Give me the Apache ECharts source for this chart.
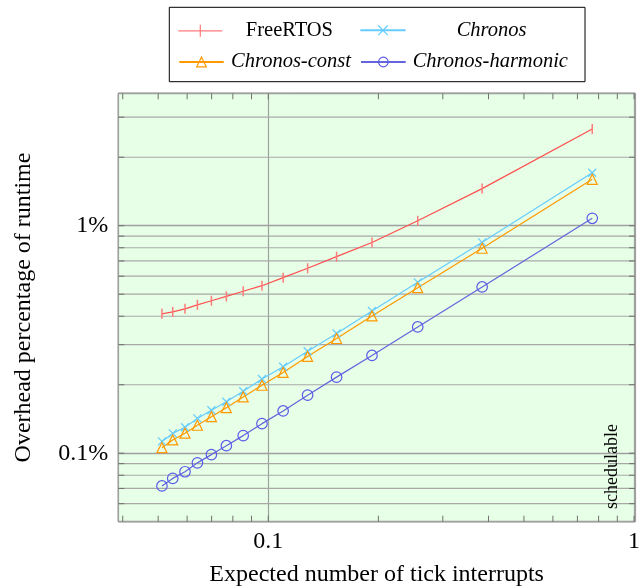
<!DOCTYPE html>
<html><head><meta charset="utf-8">
<script src="https://cdn.jsdelivr.net/npm/echarts@6/dist/echarts.min.js"></script>
<style>html,body{margin:0;padding:0;background:#fff}#c{width:640px;height:586px}</style>
</head><body><div id="c"></div>
<script>
// ---- data ----
const seriesNames = ['FreeRTOS', 'Chronos', 'Chronos-const', 'Chronos-harmonic'];
const tickInterrupts = [0.0512, 0.0548, 0.0592, 0.0640, 0.0699, 0.0768, 0.0854, 0.0961, 0.1098, 0.1281, 0.1537, 0.1921, 0.2562, 0.3843, 0.7686];
const freeRTOS        = [0.410, 0.418, 0.431, 0.449, 0.468, 0.489, 0.515, 0.545, 0.591, 0.650, 0.731, 0.844, 1.051, 1.456, 2.66];
const chronos         = [0.1127, 0.1222, 0.1300, 0.1422, 0.1545, 0.1683, 0.1872, 0.212, 0.240, 0.2808, 0.336, 0.422, 0.564, 0.845, 1.709];
const chronosConst    = [0.1058, 0.1144, 0.1225, 0.1327, 0.1448, 0.1586, 0.1768, 0.199, 0.2265, 0.2663, 0.3194, 0.4012, 0.534, 0.796, 1.599];
const chronosHarmonic = [0.0718, 0.0775, 0.0829, 0.0907, 0.0986, 0.1079, 0.1195, 0.1349, 0.1534, 0.180, 0.216, 0.269, 0.359, 0.538, 1.078];

const xTickValues = [0.1, 1];
const xTickLabels = ['0.1', '1'];
const yTickValues = [0.1, 1];
const yTickLabels = ['0.1%', '1%'];
const xMinorTicks = [0.04, 0.05, 0.06, 0.07, 0.08, 0.09, 0.2, 0.3, 0.4, 0.5, 0.6, 0.7, 0.8, 0.9];
const yMinorGrid  = [0.06, 0.07, 0.08, 0.09, 0.2, 0.3, 0.4, 0.5, 0.6, 0.7, 0.8, 0.9, 2, 3];
const xAxisRange = [0.0389, 1.006];
const yAxisRange = [0.05, 3.82];

const xTitle = 'Expected number of tick interrupts';
const yTitle = 'Overhead percentage of runtime';
const noteText = 'schedulable';

// ---- helpers ----
const FONT = '"Liberation Serif", "Times New Roman", Times, serif';
function pick(values, labels) {
  return function (v) {
    for (let i = 0; i < values.length; i++) {
      if (Math.abs(Math.log10(v) - Math.log10(values[i])) < 1e-4) return labels[i];
    }
    return '';
  };
}
const pairs = ys => tickInterrupts.map((x, i) => [x, ys[i]]);

const colors = {
  red: '#ff5050', redMark: '#ff7a7a',
  cyan: '#66ccff', orange: '#ff9900',
  blue: '#6464dc', blueMark: '#5a5ae8'
};

function lineSeries(name, ys, lineColor, markColor, symbol, symbolSize, filled) {
  return {
    name, type: 'line', data: pairs(ys), z: 3,
    showSymbol: true, showAllSymbol: true,
    symbol, symbolSize,
    lineStyle: { color: lineColor, width: 1.2 },
    itemStyle: filled
      ? { color: markColor, borderWidth: 0 }
      : { color: 'transparent', borderColor: markColor, borderWidth: 1.2 },
    emphasis: { disabled: true }
  };
}

const allYTicks = yMinorGrid.concat(yTickValues);
const allXTicks = xMinorTicks.concat(xTickValues);

const option = {
  animation: false,
  grid: {
    left: 118.3, right: 5, top: 93.3, bottom: 64.3,
    outerBoundsMode: 'none', containLabel: false,
    show: true, backgroundColor: '#e6ffe6', borderColor: '#000', borderWidth: 1
  },
  xAxis: {
    type: 'log', logBase: 10, min: xAxisRange[0], max: xAxisRange[1],
    axisLine: { show: false }, axisTick: { show: false },
    splitLine: { show: true, lineStyle: { color: '#a0a0a0', width: 1.2 } },
    minorTick: { show: false }, minorSplitLine: { show: false },
    axisLabel: { formatter: pick(xTickValues, xTickLabels), fontFamily: FONT, fontSize: 24, color: '#000', margin: 8 },
    name: xTitle, nameLocation: 'middle', nameGap: 41,
    nameTextStyle: { fontFamily: FONT, fontSize: 24, color: '#000' }
  },
  yAxis: {
    type: 'log', logBase: 10, min: yAxisRange[0], max: yAxisRange[1],
    axisLine: { show: false }, axisTick: { show: false },
    splitLine: { show: true, lineStyle: { color: '#a0a0a0', width: 1.4 } },
    minorTick: { show: false }, minorSplitLine: { show: false },
    axisLabel: { formatter: pick(yTickValues, yTickLabels), fontFamily: FONT, fontSize: 24, color: '#000', margin: 10 },
    name: yTitle, nameLocation: 'middle', nameGap: 83, nameRotate: 90,
    nameTextStyle: { fontFamily: FONT, fontSize: 24, color: '#000' }
  },
  legend: [
    { data: [{ name: 'FreeRTOS', icon: 'path://M0,5.4L44,5.4L44,6.6L0,6.6ZM21.4,0L22.6,0L22.6,12L21.4,12Z', itemStyle: { borderWidth: 0 } }],
      left: 178.3, top: 20.3, padding: 0, itemWidth: 44.4, itemHeight: 12,
      textStyle: { fontFamily: FONT, fontSize: 20.5, color: '#000', padding: [0, 0, 0, 18.3] } },
    { data: ['Chronos'],
      left: 359.3, top: 20.3, padding: 0, itemWidth: 45.4, itemHeight: 12,
      itemStyle: { borderWidth: 1.2 },
      textStyle: { fontFamily: FONT, fontSize: 20.5, fontStyle: 'italic', color: '#000', padding: [0, 0, 0, 46] } },
    { data: ['Chronos-const'],
      left: 178.3, top: 52, padding: 0, itemWidth: 44.4, itemHeight: 12,
      itemStyle: { borderWidth: 1.2 },
      textStyle: { fontFamily: FONT, fontSize: 20.5, fontStyle: 'italic', color: '#000', padding: [0, 0, 0, 2.3] } },
    { data: ['Chronos-harmonic'],
      left: 360, top: 52, padding: 0, itemWidth: 44.7, itemHeight: 12,
      itemStyle: { borderWidth: 1.2 },
      textStyle: { fontFamily: FONT, fontSize: 20.5, fontStyle: 'italic', color: '#000', padding: [0, 0, 0, 2] } }
  ],
  graphic: [
    { type: 'rect', z: -1, shape: { x: 169.3, y: 7.3, width: 415.7, height: 74.4 },
      style: { fill: '#fff', stroke: '#000', lineWidth: 1 } },
    { type: 'text', x: 612, y: 466.5, rotation: Math.PI / 2, z: 10,
      style: { text: noteText, fontFamily: FONT, fontSize: 18, fill: '#000', align: 'center', verticalAlign: 'middle' } }
  ],
  series: [
    {
      type: 'custom', silent: true, z: 1, clip: false,
      data: yMinorGrid.map(v => [xTickValues[0], v]),
      renderItem(params, api) {
        const cs = params.coordSys;
        const y = api.coord([api.value(0), api.value(1)])[1];
        return { type: 'line', shape: { x1: cs.x, y1: y, x2: cs.x + cs.width, y2: y },
                 style: { stroke: '#a8a8a8', lineWidth: 1.2 } };
      }
    },
    {
      type: 'custom', silent: true, z: 2, clip: false,
      data: allYTicks.map(v => [xTickValues[0], v]),
      renderItem(params, api) {
        const cs = params.coordSys;
        const y = api.coord([api.value(0), api.value(1)])[1];
        return { type: 'group', children: [
          { type: 'line', shape: { x1: cs.x, y1: y, x2: cs.x + 6, y2: y }, style: { stroke: '#707070', lineWidth: 1 } },
          { type: 'line', shape: { x1: cs.x + cs.width - 6, y1: y, x2: cs.x + cs.width, y2: y }, style: { stroke: '#707070', lineWidth: 1 } }
        ] };
      }
    },
    {
      type: 'custom', silent: true, z: 2, clip: false,
      data: allXTicks.map(v => [v, yTickValues[0]]),
      renderItem(params, api) {
        const cs = params.coordSys;
        const x = api.coord([api.value(0), api.value(1)])[0];
        return { type: 'group', children: [
          { type: 'line', shape: { x1: x, y1: cs.y, x2: x, y2: cs.y + 6 }, style: { stroke: '#707070', lineWidth: 1 } },
          { type: 'line', shape: { x1: x, y1: cs.y + cs.height - 6, x2: x, y2: cs.y + cs.height }, style: { stroke: '#707070', lineWidth: 1 } }
        ] };
      }
    },
    lineSeries(seriesNames[0], freeRTOS, colors.red, colors.redMark, 'rect', [1.5, 10], true),
    lineSeries(seriesNames[1], chronos, colors.cyan, colors.cyan, 'path://M0,0L10,10M10,0L0,10', 8, false),
    lineSeries(seriesNames[2], chronosConst, colors.orange, colors.orange, 'triangle', 10, false),
    lineSeries(seriesNames[3], chronosHarmonic, colors.blue, colors.blueMark, 'circle', 10.5, false)
  ]
};

const chart = echarts.init(document.getElementById('c'), null, { renderer: 'canvas' });
chart.setOption(option);
</script>
</body></html>
